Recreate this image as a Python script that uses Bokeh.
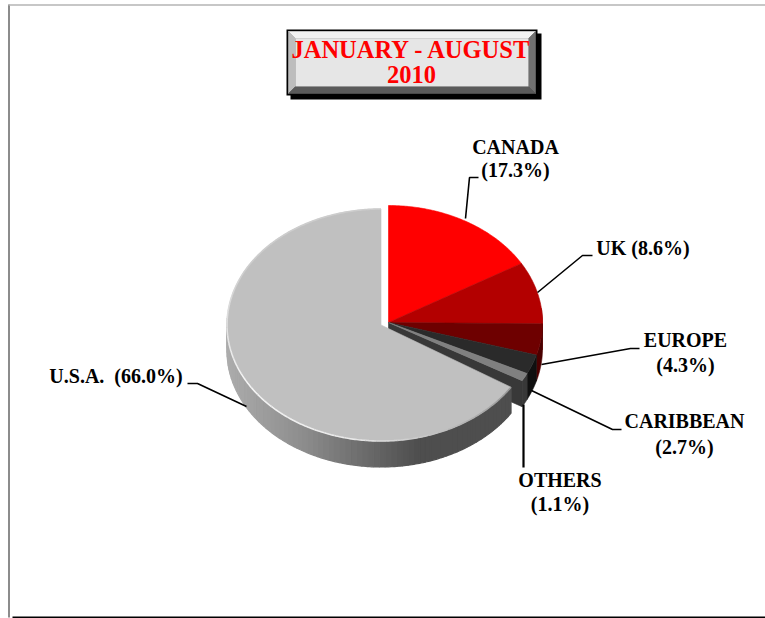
import math
from bokeh.plotting import figure
from bokeh.embed import file_html
from bokeh.resources import INLINE
from bokeh.core.properties import value
from bokeh.models import Range1d

# --- data
categories = ["CANADA", "UK", "EUROPE", "CARIBBEAN", "OTHERS", "U.S.A."]
shares = [17.3, 8.6, 4.3, 2.7, 1.1, 66.0]
top_colors = ["#ff0000", "#b30000", "#6e0000", "#2a2a2a", "#808080", "#c0c0c0"]
side_colors = ["#a00000", "#800000", "#4a0000", "#101010", "#383838", "#4d4d4d"]
label_lines = [["CANADA", "(17.3%)"], ["UK (8.6%)"], ["EUROPE", "(4.3%)"],
               ["CARIBBEAN", "(2.7%)"], ["OTHERS", "(1.1%)"], ["U.S.A.\u00a0 (66.0%)"]]
title_lines = ["JANUARY - AUGUST", "2010"]

W, H = 765, 618
p = figure(width=W, height=H, output_backend="svg", toolbar_location=None,
           x_range=Range1d(0, W), y_range=Range1d(H, 0),
           min_border=0, outline_line_color=None,
           background_fill_color="white", border_fill_color="white")
p.axis.visible = False
p.grid.visible = False

serif = value("Liberation Serif")

# frame
p.line([8.5, 8.5], [4, 617], line_color="#666666", line_width=1.5)
p.line([12, 765], [617, 617], line_color="black", line_width=2)
p.line([8, 765], [4.5, 4.5], line_color="#b4b4b4", line_width=1.5)

# pie geometry
RX, RY, DEPTH = 154, 117, 26
CX, CY = 388, 322         # unexploded group
UX, UY = 380.5, 324.5     # exploded slice
URY = 116
PERSPECTIVE = 0.045       # apparent angle shift of the group's inner edges
N = sum(shares)
edges = [0]
for s in shares:
    edges.append(edges[-1] + s / N * 2 * math.pi)
group = [0] + [e - PERSPECTIVE for e in edges[1:6]]

def pt(cx, cy, a, dy=0, ry=RY):
    return cx + RX * math.sin(a), cy - ry * math.cos(a) + dy

def arc(a0, a1, cx, cy, dy=0, step=0.01, ry=RY):
    n = max(2, int(abs(a1 - a0) / step))
    return [pt(cx, cy, a0 + (a1 - a0) * i / n, dy, ry) for i in range(n + 1)]

def poly(points, color, lw=0.6):
    p.patch([q[0] for q in points], [q[1] for q in points], fill_color=color,
            line_color=color, line_width=lw)

def lerp_color(stops, t):
    for (t0, c0), (t1, c1) in zip(stops, stops[1:]):
        if t <= t1:
            f = (t - t0) / (t1 - t0) if t1 > t0 else 0
            c = [round(c0[i] + (c1[i] - c0[i]) * f) for i in range(3)]
            return "#%02x%02x%02x" % tuple(c)
    return "#%02x%02x%02x" % tuple(stops[-1][1])

# sides of the group (only the part facing the viewer)
for i in range(5):
    a0, a1 = group[i], group[i + 1]
    lo = max(a0, 1.45)
    if a1 <= lo:
        continue
    poly(arc(lo, a1, CX, CY) + arc(a1, lo, CX, CY, DEPTH), side_colors[i])

# cut wall seen through the gap
e = pt(CX, CY, group[5])
poly([(CX, CY), e, (e[0], e[1] + DEPTH), (CX, CY + DEPTH)], side_colors[4])

# tops of the group
for i in range(5):
    poly([(CX, CY)] + arc(group[i], group[i + 1], CX, CY), top_colors[i])

# U.S.A. side, gradient by horizontal position
stops = [(0.0, (172, 172, 172)), (0.25, (140, 140, 140)), (0.62, (78, 78, 78)), (1.0, (78, 78, 78))]
a0, a1 = edges[5], 1.5 * math.pi + 0.06
steps = 70
for k in range(steps):
    b0 = a0 + (a1 - a0) * k / steps
    b1 = a0 + (a1 - a0) * (k + 1) / steps
    x = pt(UX, UY, (b0 + b1) / 2)[0]
    poly(arc(b0, b1, UX, UY, ry=URY) + arc(b1, b0, UX, UY, DEPTH, ry=URY),
         lerp_color(stops, (x - (UX - RX)) / (2 * RX)), lw=1.2)

# U.S.A. top
poly([(UX, UY)] + arc(edges[5], edges[6], UX, UY, ry=URY), top_colors[5])

# U.S.A. rim highlight
rim = [(0.0, (150, 150, 150)), (0.3, (235, 235, 235)), (0.5, (245, 245, 245)),
       (0.75, (205, 205, 205)), (1.0, (205, 205, 205))]
for k in range(60):
    b0 = edges[5] + (edges[6] - edges[5]) * k / 60
    b1 = edges[5] + (edges[6] - edges[5]) * (k + 1) / 60
    t = ((b0 + b1) / 2 - edges[5]) / (edges[6] - edges[5])
    q = arc(b0, b1, UX, UY, ry=URY)
    p.line([r[0] for r in q], [r[1] for r in q], line_color=lerp_color(rim, t), line_width=1.6)

# leader lines
leaders = [
    ([465, 469, 478], [218, 177, 177], 1.6),
    ([537, 582, 592], [292, 255, 255], 1.6),
    ([541, 630, 639], [364, 348, 348], 1.6),
    ([531, 612, 621], [390, 429, 429], 1.6),
    ([523, 523], [404, 467], 2.2),
    ([246, 197, 187], [406, 383, 383], 1.6),
]
for xs, ys, lw in leaders:
    p.line(xs, ys, line_color="black", line_width=lw)

# labels: (centre x, first line y, line step)
label_pos = [(515, 146, 23), (642.5, 247, 0), (685, 339, 25), (684, 420, 26), (559.5, 479, 24), (115.5, 375, 0)]
for lines, (x, y, step) in zip(label_lines, label_pos):
    for j, t in enumerate(lines):
        p.text([x], [y + step * j], text=[t], text_font=serif, text_font_style="bold",
               text_font_size="20px", text_color="black", text_align="center",
               text_baseline="alphabetic")

# title box
bx0, by0, bx1, by1 = 286, 29, 537, 95
p.quad(left=bx0 + 4, right=bx1 + 4, top=by0 + 4, bottom=by1 + 4, fill_color="black", line_color=None)
p.quad(left=bx0, right=bx1, top=by0, bottom=by1, fill_color="black", line_color=None)
ix0, iy0, ix1, iy1 = bx0 + 2, by0 + 2, bx1 - 2, by1 - 2
b = 7
poly([(ix0, iy0), (ix1, iy0), (ix1 - b, iy0 + b), (ix0 + b, iy0 + b)], "#f2f2f2")
poly([(ix0, iy0), (ix0 + b, iy0 + b), (ix0 + b, iy1 - b), (ix0, iy1)], "#bdbdbd")
poly([(ix1, iy0), (ix1 - b, iy0 + b), (ix1 - b, iy1 - b), (ix1, iy1)], "#707070")
poly([(ix0, iy1), (ix0 + b, iy1 - b), (ix1 - b, iy1 - b), (ix1, iy1)], "#5a5a5a")
p.quad(left=ix0 + b, right=ix1 - b, top=iy0 + b, bottom=iy1 - b, fill_color="#e6e6e6", line_color=None)
for j, t in enumerate(title_lines):
    p.text([411], [49 + 25 * j], text=[t], text_font=serif, text_font_style="bold",
           text_font_size="24.5px", text_color="#ff0000", text_align="center",
           text_baseline="alphabetic")

open("out.html", "w").write(file_html(p, INLINE))
